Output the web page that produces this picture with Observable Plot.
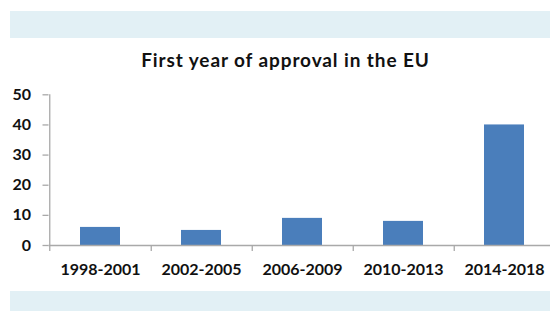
<!DOCTYPE html>
<html>
<head>
<meta charset="utf-8">
<script src="https://cdn.jsdelivr.net/npm/d3@7"></script>
<script src="https://cdn.jsdelivr.net/npm/@observablehq/plot@0.6"></script>
<style>
  html, body { margin: 0; padding: 0; background: #ffffff; }
  #wrap { position: relative; width: 550px; height: 311px; overflow: hidden; background: #ffffff; font-family: Lato, "Open Sans", sans-serif; }
  .band { position: absolute; left: 10px; width: 540px; background: #e2f0f5; }
  #title { position: absolute; left: 0; width: 571px; top: 50px; text-align: center; font-weight: 700; font-size: 19px; letter-spacing: 0.9px; line-height: 19px; color: #111; white-space: nowrap; }
  #chart { position: absolute; left: 0; top: 80px; width: 560px; }
  #chart svg { background: transparent; overflow: visible; max-width: none; }
</style>
</head>
<body>
<div id="wrap">
  <div class="band" style="top:11px;height:27px;"></div>
  <div id="title">First year of approval in the EU</div>
  <div id="chart"></div>
  <div class="band" style="top:291px;height:20px;"></div>
</div>
<script>
const periods = ["1998-2001", "2002-2005", "2006-2009", "2010-2013", "2014-2018"];
const counts = [6, 5, 9, 8, 40];
const yTicks = [0, 10, 20, 30, 40, 50];

const data = periods.map((p, i) => ({period: p, count: counts[i]}));

const W = 556, H = 200, mL = 48.5, mR = 0, mT = 14.3, mB = 35;
const xScaleOpts = {type: "band", domain: periods, range: [mL, W - mR], paddingInner: 0.6, paddingOuter: 0.3};
const xs = Plot.scale({x: xScaleOpts});
const step = xs.step ?? (W - mL - mR) / periods.length;

const axisColor = "#a9a9a9";
const textColor = "#111";

const chart = Plot.plot({
  width: W,
  height: H,
  marginLeft: mL,
  marginRight: mR,
  marginTop: mT,
  marginBottom: mB,
  style: {fontFamily: "Lato, 'Open Sans', sans-serif", background: "transparent", overflow: "visible", maxWidth: "none"},
  x: {domain: periods, paddingInner: 0.6, paddingOuter: 0.3, axis: null, label: null},
  y: {domain: [0, 50], axis: null, label: null},
  marks: [
    Plot.barY(data, {x: "period", y: "count", fill: "#4a7ebb"}),
    Plot.ruleY([0], {stroke: axisColor, strokeWidth: 1.3}),
    Plot.ruleX([periods[0]], {y1: 0, y2: 50, dx: -step / 2, stroke: axisColor, strokeWidth: 1.3}),
    Plot.axisY(yTicks, {
      anchor: "left", tickSize: 6, tickPadding: 12, stroke: axisColor, strokeWidth: 1.3, label: null,
      fill: textColor, fontSize: 16, fontWeight: "bold", letterSpacing: "0.5px", tickFormat: d => String(d)
    }),
    Plot.axisX(periods, {
      anchor: "bottom", tickSize: 6, stroke: axisColor, strokeWidth: 1.3, dx: step / 2, label: null,
      tickFormat: () => ""
    }),
    Plot.axisX([periods[0]], {
      anchor: "bottom", tickSize: 6, stroke: axisColor, strokeWidth: 1.3, dx: -step / 2, label: null,
      tickFormat: () => ""
    }),
    Plot.axisX(periods, {
      anchor: "bottom", tickSize: 0, tickPadding: 18, label: null,
      fill: textColor, fontSize: 16, fontWeight: "bold", letterSpacing: "0.4px"
    })
  ]
});
document.getElementById("chart").appendChild(chart);
</script>
</body>
</html>
